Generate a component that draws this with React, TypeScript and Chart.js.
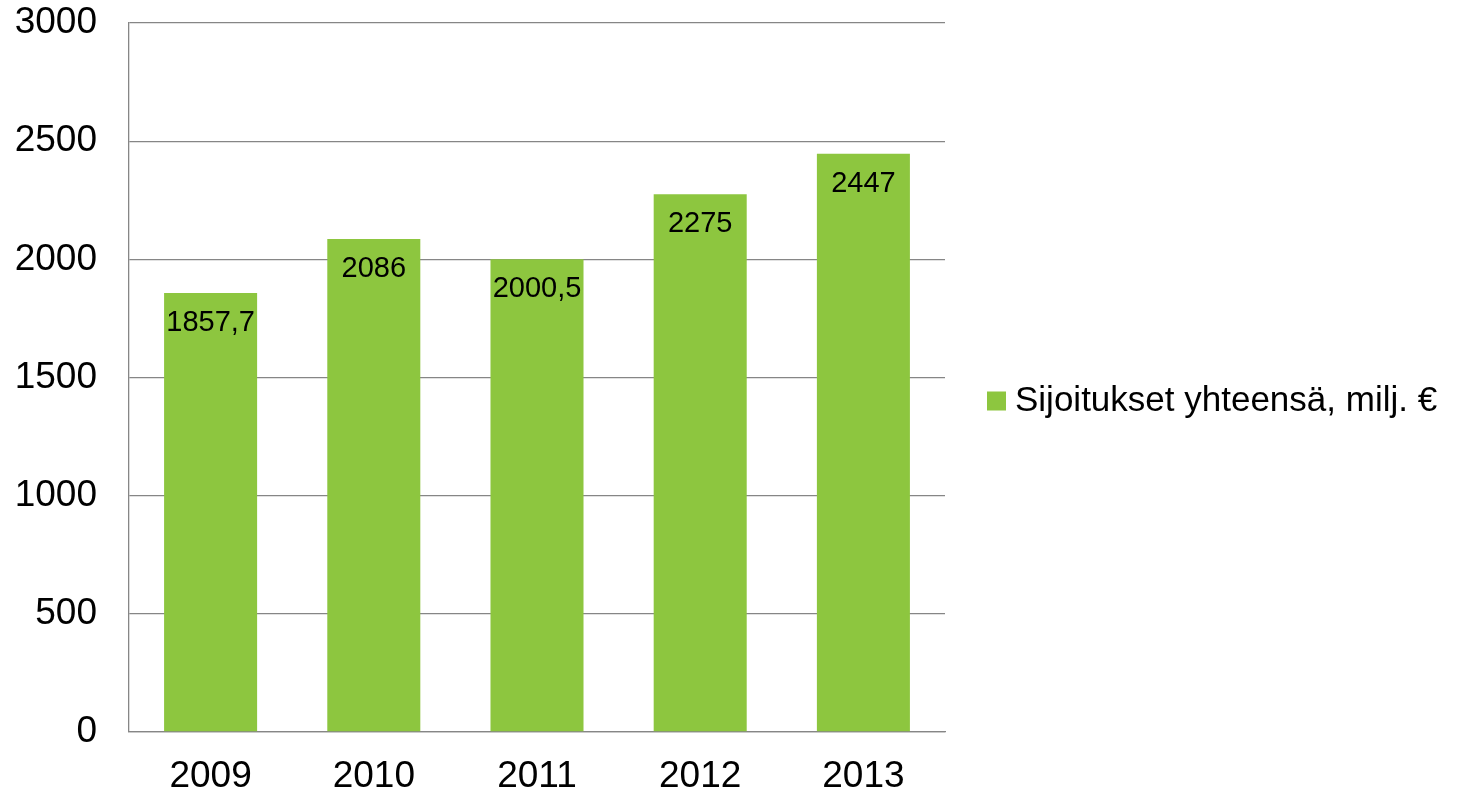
import React, { useEffect, useRef } from "react";
import { Chart, registerables } from "chart.js";

Chart.register(...registerables);

const categories = ["2009", "2010", "2011", "2012", "2013"];
const values = [1857.7, 2086, 2000.5, 2275, 2447];
const seriesLabel = "Sijoitukset yhteensä, milj. €";
const yTicks = [0, 500, 1000, 1500, 2000, 2500, 3000];

const FONT = '"Liberation Sans", Arial, sans-serif';
const GREEN = "#8DC63F";
const GRID = "#868686";

export default function App() {
  const ref = useRef<HTMLCanvasElement | null>(null);

  useEffect(() => {
    if (!ref.current) return;

    const labelPlugin = {
      id: "valueLabels",
      afterDatasetsDraw(chart: any) {
        const ctx = chart.ctx;
        const meta = chart.getDatasetMeta(0);
        ctx.save();
        ctx.font = `29px ${FONT}`;
        ctx.fillStyle = "#000";
        ctx.textAlign = "center";
        ctx.textBaseline = "middle";
        meta.data.forEach((bar: any, i: number) => {
          const v = chart.data.datasets[0].data[i] as number;
          ctx.fillText(String(v).replace(".", ","), bar.x, bar.y + 30);
        });
        ctx.restore();
      },
    };

    const legendPlugin = {
      id: "customLegend",
      afterDraw(chart: any) {
        const ctx = chart.ctx;
        const area = chart.chartArea;
        const midY = (area.top + area.bottom) / 2 + 24;
        const x0 = area.right + 42;
        ctx.save();
        ctx.fillStyle = GREEN;
        ctx.fillRect(x0, midY - 10, 19, 19);
        ctx.fillStyle = "#000";
        ctx.font = `35px ${FONT}`;
        ctx.textAlign = "left";
        ctx.textBaseline = "middle";
        ctx.fillText(seriesLabel, x0 + 28, midY);
        ctx.restore();
      },
    };

    const chart = new Chart(ref.current, {
      type: "bar",
      data: {
        labels: categories,
        datasets: [
          {
            label: seriesLabel,
            data: values,
            backgroundColor: GREEN,
            borderWidth: 0,
            categoryPercentage: 1,
            barPercentage: 0.57,
          },
        ],
      },
      options: {
        responsive: false,
        animation: false,
        layout: { padding: { left: 0, right: 538, top: 23, bottom: 0 } },
        plugins: {
          legend: { display: false },
          tooltip: { enabled: false },
        },
        scales: {
          x: {
            offset: true,
            grid: { display: false, drawTicks: false },
            border: { display: true, color: GRID, width: 1.3 },
            ticks: {
              color: "#000",
              font: { family: FONT, size: 37, lineHeight: 1 },
              padding: 26,
            },
            afterFit(scale: any) {
              scale.height = 62;
              scale.paddingLeft = 0;
              scale.paddingRight = 0;
            },
          },
          y: {
            min: 0,
            max: 3000,
            afterBuildTicks(scale: any) {
              scale.ticks = yTicks.map((v) => ({ value: v }));
            },
            grid: { color: GRID, lineWidth: 1.3, drawTicks: false },
            border: { display: true, color: GRID, width: 1.3 },
            ticks: {
              color: "#000",
              font: { family: FONT, size: 37 },
              padding: 32,
              callback: (v: any) => String(v),
            },
            afterFit(scale: any) {
              scale.width = 129;
              scale.paddingTop = 0;
              scale.paddingBottom = 0;
            },
          },
        },
      },
      plugins: [labelPlugin, legendPlugin],
    });

    return () => chart.destroy();
  }, []);

  return (
    <div style={{ position: "absolute", left: 0, top: 0, width: 1483, height: 794, background: "#fff" }}>
      <canvas ref={ref} width={1483} height={794} style={{ display: "block" }} />
    </div>
  );
}
